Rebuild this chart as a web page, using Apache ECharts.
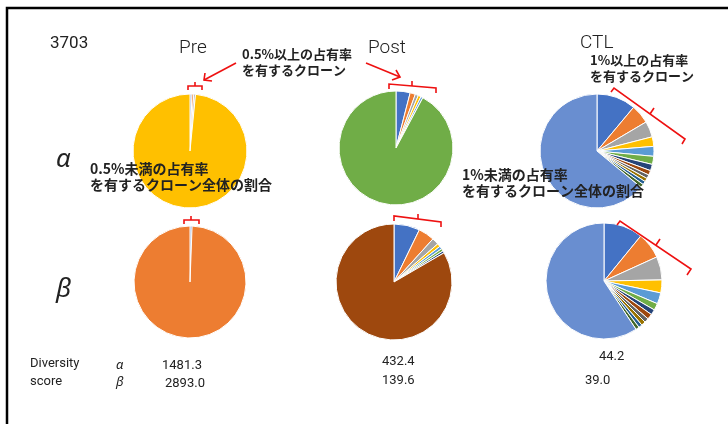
<!DOCTYPE html>
<html>
<head>
<meta charset="utf-8">
<script src="https://cdn.jsdelivr.net/npm/echarts@6/dist/echarts.min.js"></script>
<style>
  html, body { margin: 0; padding: 0; background: #fff; }
  #chart { width: 728px; height: 424px; }
</style>
</head>
<body>
<div id="chart"></div>
<script>
// 各サンプルのクローン占有率(%)、最後の値は閾値未満クローン全体
const groups = ['Pre', 'Post', 'CTL']
const preAlpha = [0.55, 0.5, 0.5, 98.45]
const preBeta = [0.6, 99.4]
const postAlpha = [4.0, 1.5, 0.9, 0.8, 0.6, 92.2]
const postBeta = [7.2, 4.5, 1.9, 0.9, 0.8, 0.7, 0.6, 83.4]
const ctlAlpha = [11.1, 5.4, 4.5, 2.7, 2.8, 2.3, 1.8, 1.3, 1.1, 1.0, 1.0, 1.0, 64.0]
const ctlBeta = [10.9, 7.3, 6.5, 3.6, 3.1, 1.9, 1.5, 1.5, 1.2, 1.2, 1.0, 1.0, 59.3]
// Diversity score
const scoreAlpha = ['1481.3', '432.4', '44.2']
const scoreBeta = ['2893.0', '139.6', '39.0']

// Excel風の配色
const palette = ['#4472C4', '#ED7D31', '#A5A5A5', '#FFC000', '#5B9BD5', '#70AD47',
  '#264478', '#9E480E', '#636363', '#997300', '#255E91', '#43682B', '#698ED0']

const myChart = echarts.init(document.getElementById('chart'))

function pie(name, values, center, r) {
  return {
    name: name,
    type: 'pie',
    center: center,
    radius: r,
    startAngle: 90,
    clockwise: true,
    silent: true,
    animation: false,
    label: { show: false },
    labelLine: { show: false },
    itemStyle: { borderColor: '#fff', borderWidth: 1 },
    data: values.map((v, i) => ({ value: v, itemStyle: { color: palette[i] } }))
  }
}

const jp = 'bold 13px "Noto Sans CJK JP"'
const jp2 = 'bold 14px "Noto Sans CJK JP"'
const latin = '300 19px Roboto'
const small = '13px Roboto'
const red = '#ee1111'

function txt(x, y, text, font) {
  return {
    type: 'text', x: x, y: y, z: 100, silent: true,
    style: { text: text, font: font, fill: '#222', textVerticalAlign: 'middle', verticalAlign: 'middle', lineHeight: 16 }
  }
}
function pl(points, color, w) {
  return { type: 'polyline', z: 100, silent: true, shape: { points: points },
    style: { stroke: color || red, lineWidth: w || 1.6, fill: null } }
}

const graphic = [
  // 枠線
  pl([[7, 424], [7, 8], [728, 8]], '#000', 2.5),
  txt(50, 44, '3703', '17px Roboto'),
  txt(179, 48, groups[0], latin),
  txt(368, 48, groups[1], latin),
  txt(580, 43, groups[2], latin),
  txt(56, 160, 'α', 'italic 26px "Noto Sans"'),
  txt(56, 290, 'β', 'italic 26px "Noto Sans"'),
  txt(242, 62, '0.5%以上の占有率\nを有するクローン', jp),
  txt(590, 68, '1%以上の占有率\nを有するクローン', jp),
  txt(90, 177, '0.5%未満の占有率\nを有するクローン全体の割合', jp2),
  txt(462, 183, '1%未満の占有率\nを有するクローン全体の割合', jp2),
  txt(30, 364, 'Diversity', small),
  txt(30, 382, 'score', small),
  txt(116, 365, 'α', 'italic 13px "Noto Sans"'),
  txt(116, 382, 'β', 'italic 13px "Noto Sans"'),
  txt(162, 366, scoreAlpha[0], small),
  txt(165, 384, scoreBeta[0], small),
  txt(382, 362, scoreAlpha[1], small),
  txt(382, 381, scoreBeta[1], small),
  txt(599, 357, scoreAlpha[2], small),
  txt(585, 381, scoreBeta[2], small),
  // 矢印
  pl([[236, 63], [204, 80]]),
  pl([[205, 73], [204, 80], [212, 81]]),
  pl([[366, 63], [400, 77]]),
  pl([[396, 70], [400, 77], [392, 80]]),
  // 括弧
  pl([[188, 90], [188, 86], [202, 86], [202, 90]]),
  pl([[195, 86], [195, 82]]),
  pl([[184, 224], [184, 220], [199, 220], [199, 224]]),
  pl([[191, 220], [191, 216]]),
  pl([[389, 89], [389, 84], [436, 88], [436, 93]]),
  pl([[412, 86], [412, 81]]),
  pl([[394, 221], [394, 216], [441, 222], [441, 227]]),
  pl([[418, 219], [418, 214]]),
  pl([[611, 92], [614, 88], [685, 139], [682, 144]]),
  pl([[650, 114], [654, 108]]),
  pl([[617, 225], [620, 221], [691, 269], [687, 275]]),
  pl([[656, 245], [660, 239]])
]

const option = {
  backgroundColor: '#fff',
  animation: false,
  graphic: graphic,
  series: [
    pie('Pre α', preAlpha, [190, 151], 57),
    pie('Post α', postAlpha, [396, 148], 57),
    pie('CTL α', ctlAlpha, [597, 151], 57),
    pie('Pre β', preBeta, [190, 282], 56),
    pie('Post β', postBeta, [394, 282], 58),
    pie('CTL β', ctlBeta, [604, 281], 58)
  ]
}
myChart.setOption(option)
</script>
</body>
</html>
